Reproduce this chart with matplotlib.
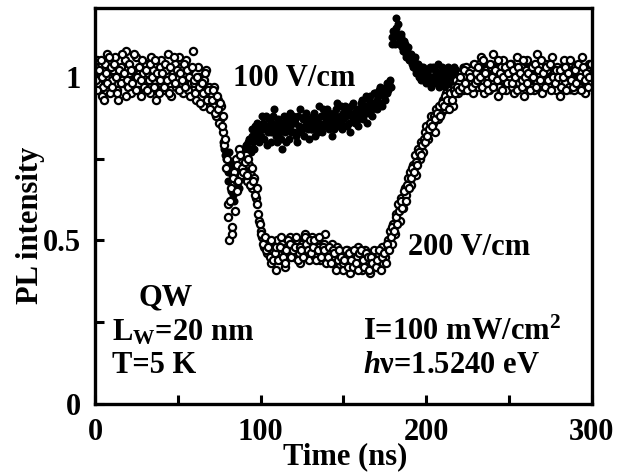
import numpy as np
import matplotlib

matplotlib.use("Agg")
import matplotlib.pyplot as plt
from matplotlib.ticker import MultipleLocator, FormatStrFormatter

plt.rcParams["font.family"] = "Liberation Serif"
plt.rcParams["font.weight"] = "bold"
plt.rcParams["mathtext.fontset"] = "custom"
plt.rcParams["mathtext.rm"] = "Liberation Serif:bold"
plt.rcParams["mathtext.it"] = "Liberation Serif:italic:bold"
plt.rcParams["mathtext.bf"] = "Liberation Serif:bold"

# ---- data: PL intensity in percent, sampled every 0.5 ns ----
# 200 V/cm (open circles): samples at whole ns ...
t_open = np.arange(0, 301)
pl_open_pct = [
    103, 105, 98, 101, 94, 97, 104, 107, 100, 95,
    99, 102, 106, 96, 93, 101, 103, 98, 105, 108,
    97, 99, 95, 102, 100, 106, 96, 103, 94, 101,
    98, 104, 101, 95, 106, 102, 97, 93, 100, 103,
    105, 99, 96, 102, 107, 98, 94, 101, 104, 97,
    100, 106, 103, 95, 99, 105, 96, 102, 98, 108,
    98, 93, 103, 100, 96, 91, 99, 102, 94, 97,
    95, 91, 97, 88, 93, 86, 91, 83, 79, 72,
    61, 50, 66, 54, 71, 75, 65, 78, 70, 74,
    72, 76, 68, 73, 70, 66, 69, 63, 61, 56,
    53, 51, 48, 50, 46, 49, 43, 47, 45, 41,
    50, 46, 44, 49, 47, 42, 48, 46, 51, 48,
    45, 47, 50, 46, 43, 49, 48, 52, 46, 44,
    49, 51, 47, 45, 50, 48, 44, 46, 49, 52,
    47, 44, 46, 49, 43, 45, 48, 42, 46, 44,
    41, 45, 47, 43, 40, 44, 46, 42, 45, 48,
    43, 41, 45, 47, 42, 44, 40, 46, 43, 45,
    42, 46, 44, 48, 43, 45, 47, 50, 53, 49,
    55, 52, 58, 61, 56, 63, 60, 66, 64, 69,
    71, 67, 73, 76, 70, 78, 75, 80, 77, 83,
    85, 81, 84, 88, 86, 83, 90, 87, 91, 89,
    93, 90, 95, 92, 96, 94, 91, 97, 99, 95,
    98, 101, 96, 100, 103, 97, 99, 102, 95, 100,
    101, 97, 104, 106, 99, 95, 102, 100, 96, 103,
    107, 98, 101, 94, 97, 103, 105, 99, 96, 102,
    100, 104, 97, 95, 101, 106, 98, 103, 99, 94,
    102, 105, 100, 97, 103, 96, 99, 107, 101, 98,
    95, 100, 104, 102, 97, 99, 106, 101, 96, 103,
    99, 94, 101, 105, 98, 102, 97, 100, 104, 96,
    103, 99, 97, 101, 106, 100, 95, 102, 104, 98, 101,
]
# ... and at the half ns in between
t_open_half = np.arange(0.5, 300, 1.0)
pl_open_half_pct = [
    99, 96, 102, 105, 100, 93, 101, 98, 106, 103,
    97, 104, 100, 95, 102, 98, 107, 101, 94, 99,
    104, 102, 98, 107, 96, 100, 103, 99, 105, 97,
    102, 96, 99, 104, 100, 97, 105, 101, 95, 99,
    101, 97, 104, 99, 95, 103, 100, 106, 98, 102,
    96, 101, 99, 104, 97, 102, 100, 94, 103, 99,
    95, 100, 97, 92, 98, 95, 101, 93, 96, 90,
    93, 96, 89, 94, 90, 92, 85, 88, 81, 75,
    57, 62, 52, 69, 59, 73, 68, 76, 72, 71,
    74, 70, 75, 67, 72, 68, 64, 66, 58, 55,
    52, 49, 51, 47, 48, 45, 50, 44, 46, 48,
    44, 48, 51, 45, 43, 47, 50, 49, 45, 47,
    48, 51, 44, 48, 47, 45, 51, 49, 47, 50,
    46, 48, 50, 44, 47, 51, 45, 48, 47, 43,
    45, 48, 43, 47, 46, 41, 44, 47, 45, 43,
    44, 47, 42, 46, 44, 42, 47, 43, 41, 46,
    47, 44, 42, 46, 45, 41, 45, 43, 47, 42,
    44, 47, 41, 45, 46, 43, 49, 47, 51, 54,
    53, 57, 55, 59, 62, 60, 65, 62, 67, 66,
    69, 72, 71, 74, 73, 77, 76, 79, 81, 80,
    82, 84, 86, 85, 88, 87, 89, 91, 88, 92,
    91, 94, 93, 90, 95, 93, 96, 95, 97, 96,
    100, 97, 102, 98, 96, 101, 100, 97, 104, 98,
    99, 103, 100, 97, 105, 101, 98, 96, 104, 100,
    97, 102, 99, 105, 101, 96, 100, 103, 98, 101,
    104, 98, 102, 100, 96, 103, 101, 97, 105, 100,
    98, 101, 96, 103, 100, 104, 97, 102, 99, 105,
    101, 97, 103, 99, 104, 96, 100, 98, 102, 100,
    102, 97, 100, 103, 96, 101, 105, 99, 97, 102,
    98, 104, 100, 96, 103, 99, 101, 97, 100, 104,
]

# 100 V/cm (filled dots)
t_filled = np.arange(76, 301)
pl_filled_pct = [
    87, 83, 78, 75,
    71, 77, 65, 73, 62, 68, 75, 66, 70, 78,
    74, 79, 72, 81, 77, 84, 78, 82, 86, 80,
    84, 88, 81, 85, 79, 87, 83, 86, 90, 82,
    80, 86, 84, 78, 88, 83, 85, 81, 89, 86,
    83, 87, 80, 85, 90, 84, 82, 88, 86, 81,
    87, 84, 89, 82, 86, 91, 85, 83, 88, 86,
    90, 84, 87, 82, 89, 86, 92, 85, 88, 84,
    87, 91, 85, 89, 83, 88, 92, 86, 90, 87,
    89, 93, 87, 91, 86, 90, 94, 88, 92, 95,
    90, 94, 97, 91, 95, 93, 98, 96, 99, 112,
    114, 110, 118, 116, 111, 113, 108, 110, 106, 109,
    105, 107, 103, 106, 101, 104, 102, 99, 103, 101,
    98, 102, 100, 97, 103, 99, 101, 104, 98, 100,
    102, 97, 99, 103, 101, 96, 100, 98, 102, 99,
    97, 101, 103, 99, 96, 100, 102, 98, 104, 100,
    99, 102, 97, 100, 103, 98, 101, 96, 100, 102,
    98, 100, 103, 97, 101, 99, 102, 104, 98, 100,
    101, 97, 99, 102, 100, 96, 103, 99, 101, 98,
    100, 103, 98, 101, 97, 99, 102, 100, 96, 101,
    99, 102, 100, 97, 103, 101, 98, 100, 102, 99,
    97, 101, 99, 103, 100, 98, 102, 96, 101, 99,
    100, 102, 98, 101, 99, 103, 97, 100, 102, 99, 101,
]
t_filled_half = np.arange(76.5, 300, 1.0)
pl_filled_half_pct = [
    85, 80, 76, 72,
    68, 74, 70, 64, 71, 66, 72, 69, 74, 76,
    77, 75, 80, 78, 82, 80, 85, 83, 81, 84,
    82, 86, 84, 88, 83, 85, 80, 88, 85, 84,
    87, 83, 81, 86, 84, 80, 87, 85, 83, 88,
    86, 82, 88, 84, 83, 87, 85, 89, 84, 86,
    84, 88, 85, 87, 83, 86, 88, 90, 85, 87,
    86, 89, 85, 88, 84, 90, 87, 86, 91, 89,
    85, 88, 90, 86, 91, 87, 89, 88, 85, 90,
    92, 88, 90, 94, 89, 93, 91, 90, 95, 92,
    93, 96, 92, 95, 94, 97, 95, 98, 97, 110,
    112, 115, 113, 110, 112, 109, 111, 107, 108, 105,
    106, 104, 105, 102, 104, 100, 103, 101, 100, 102,
    101, 99, 103, 100, 98, 102, 100, 97, 101, 103,
    99, 101, 98, 102, 100, 97, 103, 99, 101, 98,
    100, 98, 101, 97, 102, 100, 99, 103, 97, 101,
    102, 99, 100, 98, 101, 103, 97, 100, 99, 101,
    100, 102, 97, 101, 99, 100, 98, 101, 103, 99,
    98, 101, 100, 103, 97, 101, 99, 102, 100, 97,
    101, 99, 102, 100, 98, 103, 97, 101, 100, 99,
    102, 98, 101, 100, 97, 99, 103, 101, 98, 100,
    99, 103, 98, 100, 102, 99, 101, 97, 100, 103,
    101, 98, 100, 103, 97, 101, 99, 102, 98, 100,
]

t_o = np.concatenate([t_open, t_open_half])
pl_o = np.concatenate([pl_open_pct, pl_open_half_pct]) / 100.0
t_f = np.concatenate([t_filled, t_filled_half])
pl_f = np.concatenate([pl_filled_pct, pl_filled_half_pct]) / 100.0

FS = 22

fig = plt.figure(figsize=(6.2, 4.74), dpi=100)
ax = fig.add_axes([0.1532, 0.1477, 0.8016, 0.8354])

ax.plot(t_f, pl_f, "o", color="black", ms=5.8, mew=0)
ax.plot(t_o, pl_o, "o", mfc="white", mec="black", ms=5.2, mew=1.6)

ax.set_xlim(0, 300)
ax.set_ylim(0, 1.21)
ax.xaxis.set_major_locator(MultipleLocator(100))
ax.xaxis.set_minor_locator(MultipleLocator(50))
ax.yaxis.set_major_locator(MultipleLocator(0.5))
ax.yaxis.set_minor_locator(MultipleLocator(0.25))
ax.yaxis.set_major_formatter(FormatStrFormatter("%g"))

for sp in ax.spines.values():
    sp.set_linewidth(2.4)
ax.tick_params(which="both", direction="in", length=6.5, width=2.2,
               labelsize=FS, top=False, right=False)
ax.tick_params(axis="x", pad=10)
ax.tick_params(axis="y", pad=10)

ax.set_xlabel("Time (ns)", fontsize=FS, fontweight="bold")
ax.xaxis.set_label_coords(0.503, -0.097)
ax.set_ylabel("PL intensity", fontsize=FS, fontweight="bold")
ax.yaxis.set_label_coords(-0.10, 0.452)

# ---- annotations ----
ax.text(83.3, 0.973, "100 V/cm", fontsize=FS, va="baseline")
ax.text(189, 0.454, "200 V/cm", fontsize=FS, va="baseline")
ax.text(26, 0.302, "QW", fontsize=FS, va="baseline")
ax.text(10.3, 0.195, r"L$_{\rm W}$=20 nm", fontsize=FS, va="baseline")
ax.text(10.3, 0.095, "T=5 K", fontsize=FS, va="baseline")
ax.text(161.7, 0.195, r"I=100 mW/cm$^{\rm 2}$", fontsize=FS, va="baseline")
ax.text(161.7, 0.095, r"$h$ν=1.5240 eV", fontsize=FS, va="baseline")

fig.savefig("out.png", dpi=100)
